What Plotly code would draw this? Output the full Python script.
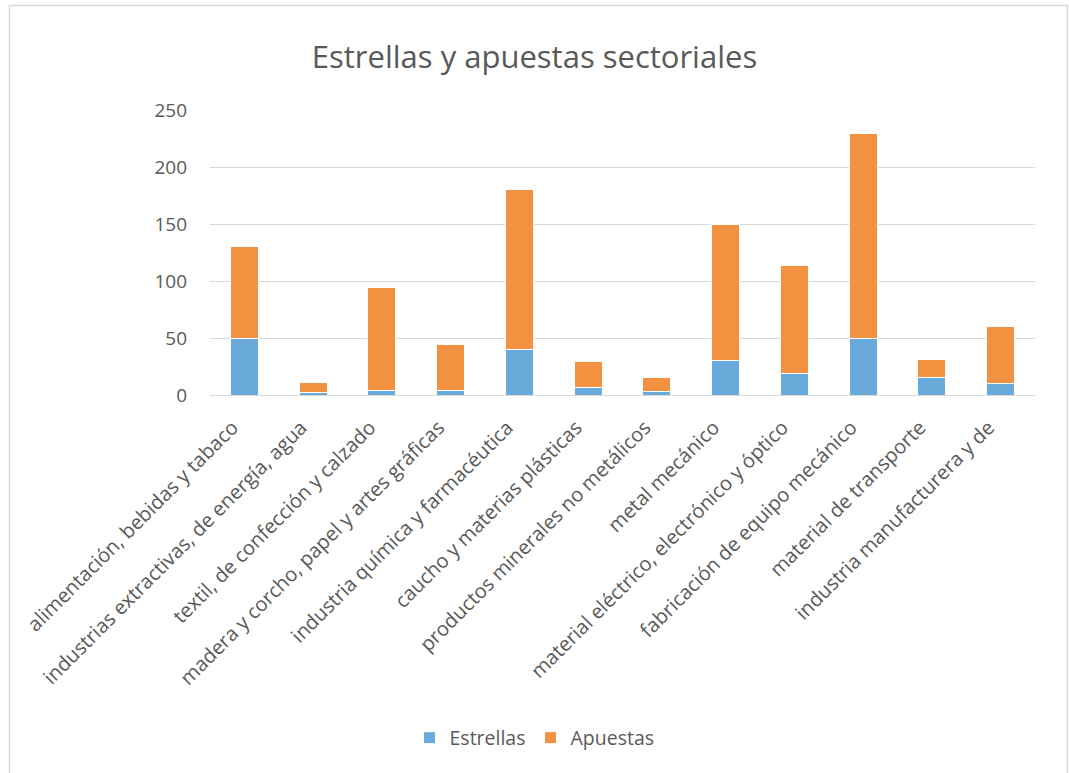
import plotly.graph_objects as go

categories = [
    "alimentación, bebidas y tabaco",
    "industrias extractivas, de energía, agua",
    "textil, de confección y calzado",
    "madera y corcho, papel y artes gráficas",
    "industria química y farmacéutica",
    "caucho y materias plásticas",
    "productos minerales no metálicos",
    "metal mecánico",
    "material eléctrico, electrónico y óptico",
    "fabricación de equipo mecánico",
    "material de transporte",
    "industria manufacturera y de",
]
estrellas = [50, 2, 4, 4, 40, 7, 3, 30, 19, 50, 15, 10]
apuestas = [80, 9, 90, 40, 140, 22, 12, 120, 95, 179, 16, 50]
y_ticks = [0, 50, 100, 150, 200, 250]

FONT = "Open Sans"
GREY = "#595959"

W, H = 1069, 773
PLOT_W, PLOT_H = 825, 285

fig = go.Figure()
fig.add_trace(go.Bar(name="Estrellas", x=categories, y=estrellas,
                     marker=dict(color="#6aaadb", line=dict(color="white", width=1))))
fig.add_trace(go.Bar(name="Apuestas", x=categories, y=apuestas,
                     marker=dict(color="#f29241", line=dict(color="white", width=1))))

fig.update_layout(
    barmode="stack",
    bargap=0.59,
    width=W, height=H,
    paper_bgcolor="white", plot_bgcolor="white",
    margin=dict(l=210, r=34, t=110, b=378),
    font=dict(family=FONT, color=GREY),
    title=dict(text="Estrellas y apuestas sectoriales", x=0.5, xref="container",
               y=1 - 57 / H, yref="container", xanchor="center", yanchor="middle",
               font=dict(size=31, color=GREY, family=FONT)),
    legend=dict(orientation="h", x=0.5, xref="container", xanchor="center",
                y=1 - 738 / H, yref="container", yanchor="middle",
                font=dict(size=19.5, color=GREY), itemwidth=30, traceorder="normal"),
    xaxis=dict(tickangle=-45, tickfont=dict(size=20, color=GREY), showgrid=False,
               showline=True, linecolor="#d9d9d9", linewidth=1, ticks="",
               ticklabelshift=-12, ticklabelstandoff=12),
    yaxis=dict(range=[0, 250], tickvals=y_ticks, tickfont=dict(size=19, color=GREY),
               showgrid=True, gridcolor="#d9d9d9", gridwidth=1, zeroline=False,
               ticks="", ticklabelstandoff=22),
    shapes=[dict(type="rect", xref="paper", yref="paper",
                 x0=-200.5 / PLOT_W, x1=1 + 32.5 / PLOT_W,
                 y0=-400 / PLOT_H, y1=1 + 104.5 / PLOT_H,
                 line=dict(color="#d9d9d9", width=1.5), fillcolor="rgba(0,0,0,0)", layer="below")],
)

fig.write_html("out.html", config={"displayModeBar": False},
               post_script="document.body.style.margin='0';document.body.style.overflow='hidden';")
